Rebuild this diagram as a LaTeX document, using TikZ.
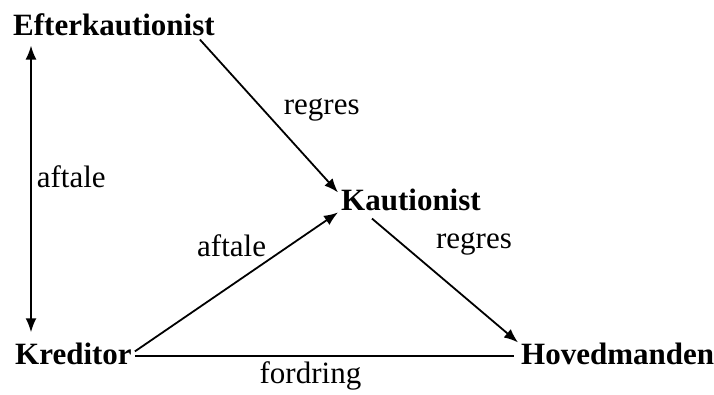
\documentclass[tikz,border=0pt]{standalone}
\usepackage{fontspec}
\setmainfont{Liberation Serif}
\usetikzlibrary{arrows.meta}

\begin{document}
\fontsize{31}{37}\selectfont
\begin{tikzpicture}[x=1pt, y=1pt,
    >={Latex[length=14pt,width=11pt]},
    party/.style={inner sep=3pt, anchor=base west, font=\bfseries},
    lbl/.style={inner sep=0pt},
    arr/.style={line width=1.8pt}]
    \useasboundingbox (0,0) rectangle (714,395);

    % Define nodes
    \node [party] (efter) at (10,359) {Efterkautionist};
    \node [party] (kaut) at (338,184) {Kautionist};
    \node [party] (kred) at (12,30) {Kreditor};
    \node [party] (hoved) at (518,30) {Hovedmanden};

    % Draw arrows and labels
    \draw[arr, <->, shorten <=6pt, shorten >=8pt] ([xshift=21pt]efter.south west) -- ([xshift=21pt]efter.south west |- kred.north) node[lbl, midway, anchor=base west, xshift=5pt, yshift=2pt] {aftale};
    \draw[arr, ->] ([xshift=-18pt]efter.south east) -- ([yshift=8pt]kaut.west) node[lbl, midway, anchor=base west, xshift=14pt, yshift=1pt] {regres};
    \draw[arr, ->] ([yshift=3pt]kred.east) -- ([yshift=-12pt]kaut.west) node[lbl, pos=0.65, anchor=south east, yshift=3pt] {aftale};
    \draw[arr, ->] ([xshift=-39pt, yshift=-4pt]kaut.south) -- ([yshift=12pt]hoved.west) node[lbl, midway, anchor=south, xshift=29pt, yshift=24pt] {regres};
    \draw[arr, shorten >=4pt] ([yshift=-2pt]kred.east) -- ([yshift=-2pt]hoved.west) node[lbl, midway, below, xshift=-16pt, yshift=-4pt] {fordring};
\end{tikzpicture}
\end{document}
